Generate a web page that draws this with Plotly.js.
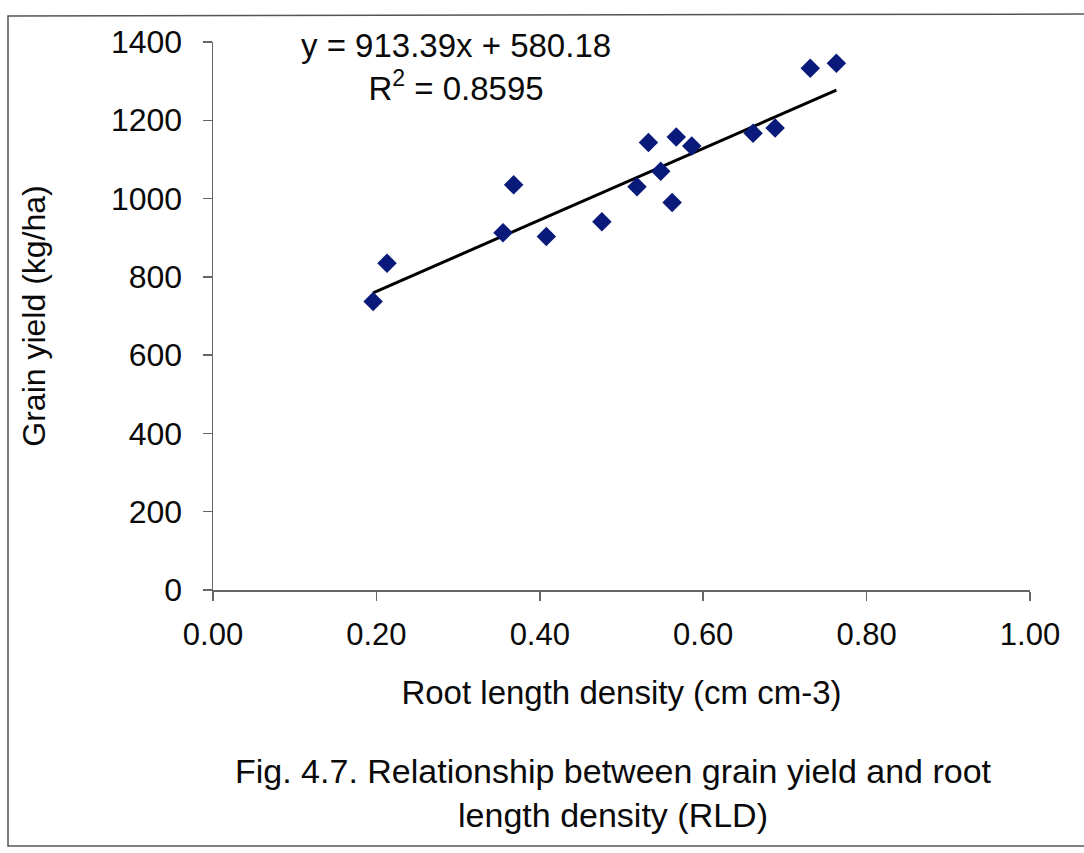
<!DOCTYPE html>
<html>
<head>
<meta charset="utf-8">
<script src="https://cdn.plot.ly/plotly-3.0.1.min.js"></script>
<style>html,body{margin:0;padding:0;background:#fff;}#chart{width:1084px;height:853px;}</style>
</head>
<body>
<div id="chart"></div>
<script>
// Data
const rld = [0.196, 0.213, 0.355, 0.368, 0.408, 0.476, 0.519, 0.533, 0.548, 0.562, 0.567, 0.586, 0.661, 0.688, 0.731, 0.763];
const grainYield = [737, 835, 913, 1035, 903, 941, 1030, 1143, 1070, 990, 1157, 1134, 1167, 1180, 1333, 1346];
const slope = 913.39;
const intercept = 580.18;
const xTickVals = [0, 0.2, 0.4, 0.6, 0.8, 1.0];
const xTickText = ["0.00", "0.20", "0.40", "0.60", "0.80", "1.00"];
const yTickVals = [0, 200, 400, 600, 800, 1000, 1200, 1400];
const equationText = "y = 913.39x + 580.18";
const r2Text = "R<sup>2</sup> = 0.8595";
const xTitle = "Root length density (cm cm-3)";
const yTitle = "Grain yield (kg/ha)";
const caption = "Fig. 4.7. Relationship between grain yield and root<br>length density (RLD)";

const W = 1084, H = 853;
const mL = 213, mR = 54, mT = 42, mB = 263;
const pw = W - mL - mR, ph = H - mT - mB;
const px = v => (v - mL) / pw;
const py = v => (H - mB - v) / ph;

const xMin = Math.min(...rld), xMax = Math.max(...rld);
const trendX = [xMin, xMax];
const trendY = trendX.map(x => slope * x + intercept);

const font = "Liberation Sans, Arial, Helvetica, sans-serif";
const txt = '#0a0a0a';

const data = [
  {
    x: trendX, y: trendY, type: 'scatter', mode: 'lines',
    line: {color: '#000000', width: 3}, hoverinfo: 'skip', showlegend: false
  },
  {
    x: rld, y: grainYield, type: 'scatter', mode: 'markers',
    marker: {symbol: 'diamond', size: 15, color: '#0a1a7a', line: {width: 0}},
    showlegend: false
  }
];

const layout = {
  width: W, height: H,
  margin: {l: mL, r: mR, t: mT, b: mB, pad: 0},
  paper_bgcolor: '#ffffff', plot_bgcolor: '#ffffff',
  font: {family: font, color: txt, size: 32},
  showlegend: false,
  xaxis: {
    range: [0, 1], tickvals: xTickVals, ticktext: xTickText,
    showgrid: false, zeroline: false, showline: true, linecolor: '#666666', linewidth: 1.5,
    ticks: 'outside', ticklen: 9, tickwidth: 1.5, tickcolor: '#666666',
    tickfont: {family: font, size: 31, color: txt}, ticklabelstandoff: 7,
    title: {text: xTitle, font: {family: font, size: 33, color: txt}, standoff: 30},
    fixedrange: true
  },
  yaxis: {
    range: [0, 1400], tickvals: yTickVals,
    showgrid: false, zeroline: false, showline: true, linecolor: '#666666', linewidth: 1.5,
    ticks: 'outside', ticklen: 9, tickwidth: 1.5, tickcolor: '#666666',
    tickfont: {family: font, size: 32, color: txt}, ticklabelstandoff: 14,
    title: {text: yTitle, font: {family: font, size: 32, color: txt}, standoff: 55},
    fixedrange: true
  },
  annotations: [
    {xref: 'paper', yref: 'paper', x: px(456), y: py(67), xanchor: 'center', yanchor: 'middle',
     text: equationText + "<br>" + r2Text, showarrow: false, align: 'center',
     font: {family: font, size: 33, color: txt}},
    {xref: 'paper', yref: 'paper', x: px(613), y: py(793), xanchor: 'center', yanchor: 'middle',
     text: caption, showarrow: false, align: 'center',
     font: {family: font, size: 34, color: txt}}
  ],
  shapes: [
    {type: 'path', xref: 'paper', yref: 'paper',
     path: 'M ' + px(1090) + ' ' + py(14) + ' L ' + px(8) + ' ' + py(16) + ' L ' + px(8) + ' ' + py(846) + ' L ' + px(1090) + ' ' + py(846),
     line: {color: '#555555', width: 1.5}}
  ]
};

Plotly.newPlot('chart', data, layout, {displayModeBar: false, staticPlot: true});
</script>
</body>
</html>
